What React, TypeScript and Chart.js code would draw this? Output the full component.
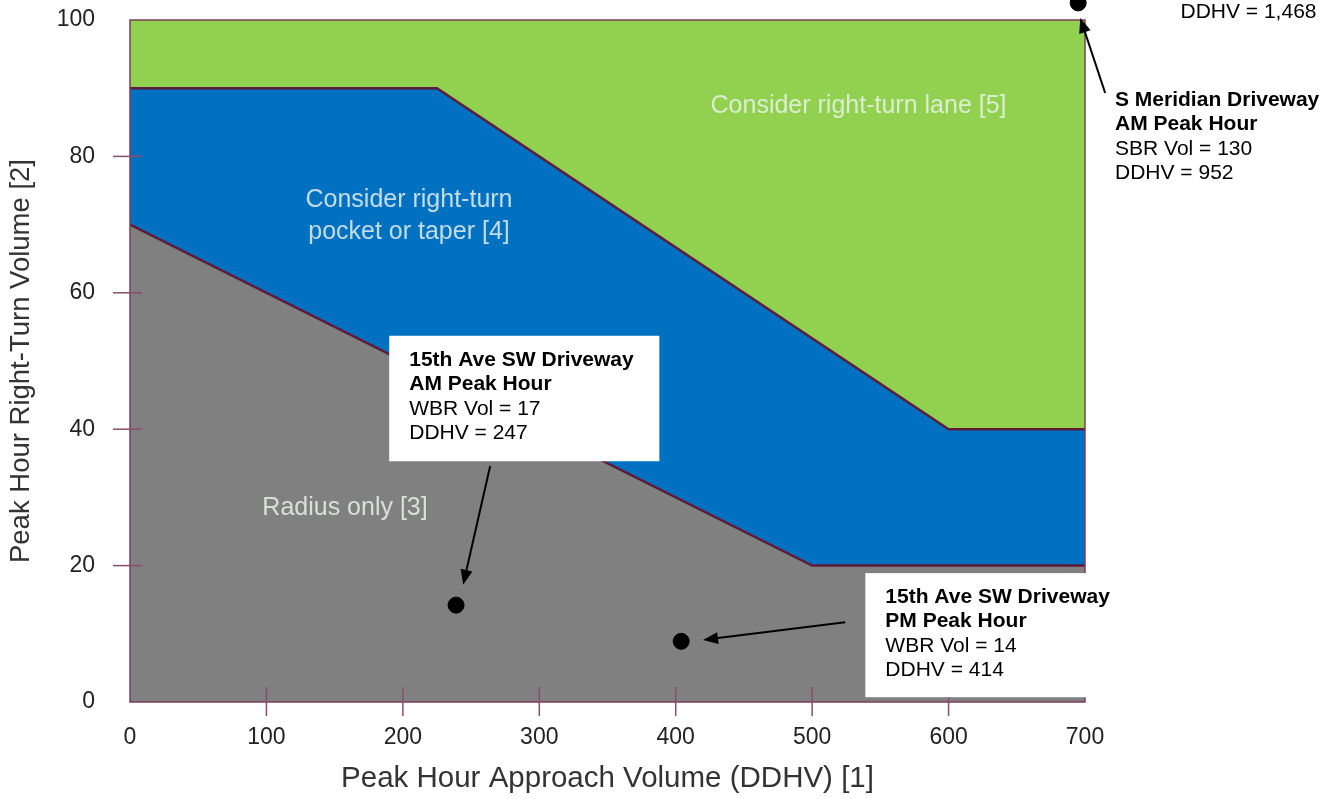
import React, { useEffect, useRef } from "react";
import { Chart, registerables } from "chart.js";

Chart.register(...registerables);

// ---- data ----
const xTickValues = [0, 100, 200, 300, 400, 500, 600, 700];
const yTickValues = [0, 20, 40, 60, 80, 100];

// upper edge of "Radius only [3]" zone
const radiusEdgeX = [0, 500, 700];
const radiusEdgeY = [70, 20, 20];
// upper edge of "pocket or taper [4]" zone
const pocketEdgeX = [0, 225, 600, 700];
const pocketEdgeY = [90, 90, 40, 40];
// upper edge of "right-turn lane [5]" zone
const laneEdgeX = [0, 700];
const laneEdgeY = [100, 100];

// plotted driveway observations (as drawn)
const drivewayX = [239, 404, 695];
const drivewayY = [14.2, 8.9, 102.5];

const zoneLabels = [
  { lines: ["Consider right-turn lane [5]"], x: 534, y: 87.4 },
  { lines: ["Consider right-turn", "pocket or taper [4]"], x: 204.5, y: 73.6 },
  { lines: ["Radius only [3]"], x: 157.6, y: 28.4 },
];

const boxedNotes = [
  {
    bold: ["15th Ave SW Driveway", "AM Peak Hour"],
    plain: ["WBR Vol = 17", "DDHV = 247"],
    x0: 190, x1: 388, y0: 53.7, y1: 35.3,
  },
  {
    bold: ["15th Ave SW Driveway", "PM Peak Hour"],
    plain: ["WBR Vol = 14", "DDHV = 414"],
    x0: 539, x1: 701.6, y0: 18.9, y1: 0.7,
  },
];

const freeNotes = [
  { bold: ["S Meridian Driveway", "AM Peak Hour"], plain: ["SBR Vol = 130", "DDHV = 952"], x: 722, y: 88.3 },
  { bold: [], plain: ["DDHV = 1,468"], x: 770, y: 101.2 },
];

const arrows = [
  { fromX: 264, fromY: 34.6, toX: 244.2, toY: 17.2 },
  { fromX: 524.2, fromY: 11.7, toX: 420, toY: 9.1 },
  { fromX: 714.8, fromY: 89.3, toX: 696.5, toY: 100.3 },
];

const FONT = "'Liberation Sans', Arial, Helvetica, sans-serif";
const MAROON = "#5e1b3a";
const FRAME = "#7d3d5e";

const decorPlugin = {
  id: "decor",
  afterDatasetsDraw(chart: any) {
    const { ctx, chartArea, scales } = chart;
    const xs = scales.x;
    const ys = scales.y;
    const px = (v: number) => xs.getPixelForValue(v);
    const py = (v: number) => ys.getPixelForValue(v);
    ctx.save();

    // points lying beyond the plot area (library skips them): draw via their own elements
    const meta = chart.getDatasetMeta(0);
    const fullArea = { left: 0, top: 0, right: chart.width, bottom: chart.height };
    meta.data.forEach((el: any) => {
      if (el.y < chartArea.top || el.x > chartArea.right) el.draw(ctx, fullArea);
    });

    // frame
    ctx.strokeStyle = FRAME;
    ctx.lineWidth = 1.5;
    ctx.strokeRect(chartArea.left, chartArea.top, chartArea.right - chartArea.left, chartArea.bottom - chartArea.top);

    // tick marks crossing axes
    ctx.strokeStyle = "#8a4d6c";
    ctx.lineWidth = 1.5;
    xTickValues.forEach((v) => {
      if (v === 0 || v === 700) return;
      const x = px(v);
      ctx.beginPath();
      ctx.moveTo(x, chartArea.bottom - 15);
      ctx.lineTo(x, chartArea.bottom + 14);
      ctx.stroke();
    });
    yTickValues.forEach((v) => {
      if (v === 0 || v === 100) return;
      const y = py(v);
      ctx.beginPath();
      ctx.moveTo(chartArea.left - 17, y);
      ctx.lineTo(chartArea.left + 12, y);
      ctx.stroke();
    });

    // zone labels
    ctx.fillStyle = "rgba(236,244,236,0.82)";
    ctx.font = `25px ${FONT}`;
    ctx.textAlign = "center";
    ctx.textBaseline = "middle";
    zoneLabels.forEach((z) => {
      z.lines.forEach((l, i) => ctx.fillText(l, px(z.x), py(z.y) + i * 32));
    });

    // notes
    const lh = 24.5;
    const drawNote = (bold: string[], plain: string[], left: number, firstY: number) => {
      ctx.fillStyle = "#000";
      ctx.textAlign = "left";
      ctx.textBaseline = "middle";
      let y = firstY;
      bold.forEach((l) => {
        ctx.font = `bold 21px ${FONT}`;
        ctx.fillText(l, left, y);
        y += lh;
      });
      plain.forEach((l) => {
        ctx.font = `21px ${FONT}`;
        ctx.fillText(l, left, y);
        y += lh;
      });
    };
    boxedNotes.forEach((b) => {
      const x0 = px(b.x0), x1 = px(b.x1), y0 = py(b.y0), y1 = py(b.y1);
      ctx.fillStyle = "#ffffff";
      ctx.fillRect(x0, y0, x1 - x0, y1 - y0);
      drawNote(b.bold, b.plain, x0 + 20, y0 + 24);
    });
    freeNotes.forEach((n) => drawNote(n.bold, n.plain, px(n.x), py(n.y)));

    // arrows
    ctx.strokeStyle = "#000";
    ctx.fillStyle = "#000";
    ctx.lineWidth = 2;
    arrows.forEach((a) => {
      const x1 = px(a.fromX), y1 = py(a.fromY), x2 = px(a.toX), y2 = py(a.toY);
      const ang = Math.atan2(y2 - y1, x2 - x1);
      const hl = 15, hw = 6;
      const bx = x2 - hl * Math.cos(ang), by = y2 - hl * Math.sin(ang);
      ctx.beginPath();
      ctx.moveTo(x1, y1);
      ctx.lineTo(bx, by);
      ctx.stroke();
      ctx.beginPath();
      ctx.moveTo(x2, y2);
      ctx.lineTo(bx + hw * Math.sin(ang), by - hw * Math.cos(ang));
      ctx.lineTo(bx - hw * Math.sin(ang), by + hw * Math.cos(ang));
      ctx.closePath();
      ctx.fill();
    });

    ctx.restore();
  },
};

export default function App() {
  const canvasRef = useRef<HTMLCanvasElement | null>(null);

  useEffect(() => {
    if (!canvasRef.current) return;
    const toPts = (xs: number[], ys: number[]) => xs.map((x, i) => ({ x, y: ys[i] }));
    const chart = new Chart(canvasRef.current, {
      type: "line",
      data: {
        datasets: [
          {
            type: "scatter",
            data: toPts(drivewayX, drivewayY),
            pointRadius: 8,
            pointBackgroundColor: "#000",
            pointBorderColor: "#000",
            showLine: false,
            clip: false,
          } as any,
          {
            data: toPts(radiusEdgeX, radiusEdgeY),
            borderColor: MAROON,
            borderWidth: 2.5,
            backgroundColor: "#808080",
            fill: "origin",
            pointRadius: 0,
            tension: 0,
          },
          {
            data: toPts(pocketEdgeX, pocketEdgeY),
            borderColor: MAROON,
            borderWidth: 2.5,
            backgroundColor: "#0070c0",
            fill: "origin",
            pointRadius: 0,
            tension: 0,
          },
          {
            data: toPts(laneEdgeX, laneEdgeY),
            borderColor: FRAME,
            borderWidth: 0,
            backgroundColor: "#92d050",
            fill: "origin",
            pointRadius: 0,
            tension: 0,
          },
        ],
      },
      options: {
        responsive: false,
        animation: false,
        devicePixelRatio: 1,
        layout: { padding: { top: 20, right: 253, bottom: 0, left: 0 } },
        plugins: { legend: { display: false }, tooltip: { enabled: false } },
        scales: {
          x: {
            type: "linear",
            min: 0,
            max: 700,
            afterBuildTicks: (s: any) => {
              s.ticks = xTickValues.map((v) => ({ value: v }));
            },
            afterFit: (s: any) => {
              s.height = 97;
              s.paddingLeft = 0;
              s.paddingRight = 0;
            },
            grid: { display: false, drawTicks: false },
            border: { display: false },
            ticks: { color: "#222", font: { family: FONT, size: 23 }, padding: 22, maxRotation: 0 },
            title: {
              display: true,
              text: "Peak Hour Approach Volume (DDHV) [1]",
              color: "#333",
              font: { family: FONT, size: 29.5 },
              padding: { top: 0, bottom: 2 },
            },
          },
          y: {
            type: "linear",
            min: 0,
            max: 100,
            afterBuildTicks: (s: any) => {
              s.ticks = yTickValues.map((v) => ({ value: v }));
            },
            afterFit: (s: any) => {
              s.width = 130;
              s.paddingTop = 0;
              s.paddingBottom = 0;
            },
            grid: { display: false, drawTicks: false },
            border: { display: false },
            ticks: { color: "#222", font: { family: FONT, size: 23 }, padding: 35 },
            title: {
              display: true,
              text: "Peak Hour Right-Turn Volume [2]",
              color: "#333",
              font: { family: FONT, size: 27.5 },
              padding: { top: 5, bottom: 0 },
            },
          },
        },
      },
      plugins: [decorPlugin],
    } as any);
    return () => chart.destroy();
  }, []);

  return (
    <div style={{ position: "absolute", left: 0, top: 0, width: 1338, height: 799, background: "#fff" }}>
      <canvas ref={canvasRef} width={1338} height={799} />
    </div>
  );
}
